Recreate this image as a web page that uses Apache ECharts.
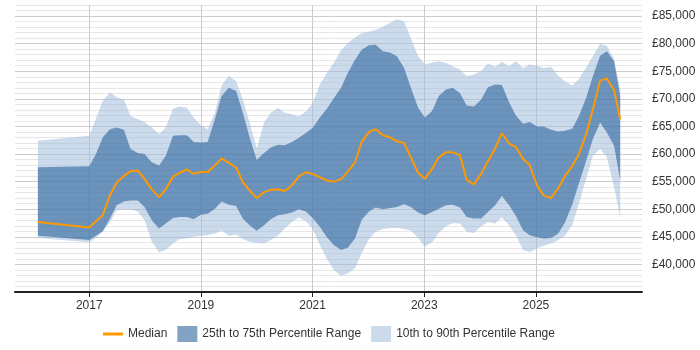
<!DOCTYPE html>
<html>
<head>
<meta charset="utf-8">
<script src="https://cdn.jsdelivr.net/npm/echarts@6/dist/echarts.min.js"></script>
<style>
  html, body { margin: 0; padding: 0; background: #fff; }
  #chart { width: 700px; height: 350px; }
</style>
</head>
<body>
<div id="chart"></div>
<script>
/* data (year as decimal, salary in GBP) */
var years = [2016.08, 2017.00, 2017.12, 2017.24, 2017.37, 2017.49, 2017.62, 2017.74, 2017.87, 2017.99,
	2018.12, 2018.25, 2018.37, 2018.50, 2018.62, 2018.75, 2018.87, 2019.00, 2019.12, 2019.25,
	2019.37, 2019.50, 2019.63, 2019.75, 2019.88, 2020.00, 2020.13, 2020.25, 2020.38, 2020.50,
	2020.63, 2020.75, 2020.88, 2021.00, 2021.13, 2021.25, 2021.38, 2021.51, 2021.63, 2021.76,
	2021.88, 2022.01, 2022.13, 2022.26, 2022.39, 2022.51, 2022.64, 2022.76, 2022.89, 2023.01,
	2023.14, 2023.26, 2023.39, 2023.51, 2023.64, 2023.76, 2023.89, 2024.02, 2024.14, 2024.27,
	2024.39, 2024.52, 2024.64, 2024.77, 2024.89, 2025.02, 2025.14, 2025.27, 2025.40, 2025.52,
	2025.65, 2025.77, 2025.90, 2026.02, 2026.15, 2026.27, 2026.40, 2026.51];

var p90 = [62400, 63300, 66400, 69600, 71200, 70300, 69900, 66900, 66300, 65800,
	64800, 63600, 64800, 68200, 68600, 68400, 66600, 65200, 64500, 67500,
	72400, 74200, 73200, 69900, 65400, 61000, 65700, 67500, 68400, 67500,
	67200, 66800, 67700, 69200, 72600, 74600, 76500, 78800, 80100, 81100,
	81900, 82200, 82500, 83100, 83800, 84400, 84000, 81000, 77700, 76200,
	76600, 76800, 76500, 75900, 75300, 74100, 74400, 75100, 76400, 75800,
	76700, 75900, 76800, 75600, 76200, 76000, 75600, 75800, 74200, 73200,
	72400, 73600, 75700, 77700, 80000, 79600, 77200, 71500];

var p75 = [57600, 57800, 60000, 63000, 64500, 64800, 64400, 60900, 60200, 60000,
	58500, 57900, 59700, 63300, 63400, 63400, 62200, 62100, 62200, 66300,
	70500, 72000, 71400, 67500, 62700, 58900, 60200, 61200, 61700, 61600,
	62200, 62900, 63800, 64700, 66600, 68100, 70100, 72000, 74700, 77100,
	78900, 79700, 79800, 78600, 78400, 77700, 75600, 72000, 68400, 66600,
	67800, 70500, 71700, 72000, 71000, 68800, 68600, 69900, 72100, 72600,
	72500, 69400, 67000, 65500, 65800, 65000, 65000, 64400, 64100, 64200,
	64600, 66900, 70200, 74100, 77800, 78600, 76800, 70500];

var median = [47700, 46700, 47800, 48900, 52500, 54800, 56000, 56900, 57000, 55500,
	53600, 52200, 53600, 55900, 56600, 57200, 56400, 56800, 56700, 57900,
	59200, 58400, 57600, 54900, 53300, 52000, 53100, 53500, 53600, 53300,
	54300, 55900, 56700, 56400, 55800, 55200, 55000, 55400, 56800, 58500,
	62200, 64000, 64500, 63400, 63000, 62300, 62000, 59400, 56600, 55500,
	57300, 59400, 60300, 60300, 59800, 55300, 54500, 56400, 58700, 61000,
	63800, 61900, 61300, 59100, 58000, 54300, 52500, 52000, 53800, 56000,
	57800, 60000, 63600, 68100, 73300, 73700, 71600, 66300];

var p25 = [45200, 44400, 45200, 46000, 48300, 50700, 51400, 51600, 51600, 50400,
	48000, 46500, 47400, 48400, 48600, 48600, 48200, 49000, 49200, 50100,
	51400, 50800, 50600, 48300, 47000, 46100, 47100, 48200, 48900, 49100,
	49400, 50000, 49600, 48400, 46800, 45000, 43500, 42600, 43000, 44700,
	48100, 49600, 50300, 50000, 50200, 50400, 50900, 50400, 49400, 48900,
	49500, 50100, 50700, 50800, 50300, 48600, 48300, 48300, 49500, 50700,
	52400, 50700, 48800, 46200, 45300, 44900, 44700, 44800, 45600, 47600,
	50800, 54700, 58800, 62700, 65700, 63900, 61500, 55200];

var p10 = [44800, 44000, 44800, 45900, 47600, 49800, 50000, 50000, 49600, 48000,
	44100, 42200, 42600, 43800, 44600, 44700, 45000, 45200, 45300, 45600,
	46100, 45200, 45400, 44600, 44100, 43900, 43800, 44400, 45200, 46500,
	47700, 48500, 47800, 46500, 43500, 41100, 39000, 37900, 38400, 39300,
	42000, 44600, 45900, 46400, 46600, 46600, 46400, 46100, 44800, 43200,
	44000, 45700, 46900, 47500, 47400, 45900, 45700, 46900, 47700, 47400,
	48500, 47100, 45300, 42600, 42200, 42900, 43400, 43800, 44400, 45200,
	47100, 51000, 55500, 59700, 60900, 59400, 54000, 48600];

var yearTicks = [2017, 2019, 2021, 2023, 2025];
var salaryTicks = [40000, 45000, 50000, 55000, 60000, 65000, 70000, 75000, 80000, 85000];

var fontName = 'Liberation Sans, Arial, sans-serif';

/* band between two percentile lines, drawn as one polygon */
function bandData(lo, hi) {
	return years.map(function (y, i) { return [y, lo[i], hi[i]]; });
}
function bandRender(params, api) {
	if (params.dataIndex !== 0) return;
	var top = [], bottom = [];
	for (var i = 0; i < years.length; i++) {
		top.push(api.coord([api.value(0, i), api.value(2, i)]));
		bottom.push(api.coord([api.value(0, i), api.value(1, i)]));
	}
	return {
		type: 'polygon',
		shape: { points: top.concat(bottom.reverse()) },
		style: api.style()
	};
}

function money(v) {
	return '£' + String(v).replace(/\B(?=(\d{3})+(?!\d))/g, ',');
}

var chart = echarts.init(document.getElementById('chart'), null, { renderer: 'canvas' });

var option = {
	animation: false,
	grid: {
		left: 15,
		right: 58,
		top: 5,
		bottom: 58
	},
	legend: {
		left: 98,
		top: 321,
		itemWidth: 20,
		itemHeight: 16,
		itemGap: 10,
		textStyle: { fontFamily: fontName, fontSize: 12, color: '#333' },
		data: [
			{ name: 'Median', icon: 'path://M0,0M0,6.5L20,6.5L20,9.5L0,9.5ZM20,16' },
			{ name: '25th to 75th Percentile Range', icon: 'rect' },
			{ name: '10th to 90th Percentile Range', icon: 'rect' }
		]
	},
	xAxis: {
		type: 'value',
		min: 2015.67,
		max: 2026.9,
		axisLine: { lineStyle: { color: '#222', width: 2 } },
		axisTick: {
			show: true,
			customValues: yearTicks,
			length: 5,
			lineStyle: { color: '#222' }
		},
		axisLabel: {
			customValues: yearTicks,
			margin: 8,
			fontFamily: fontName,
			fontSize: 12,
			color: '#333',
			formatter: function (v) { return String(Math.round(v)); }
		},
		splitLine: { show: true, lineStyle: { color: '#cccccc', width: 1 } }
	},
	yAxis: {
		type: 'value',
		position: 'right',
		min: 35000,
		max: 87000,
		interval: 1000,
		axisLine: { show: false },
		axisTick: { show: false },
		axisLabel: {
			customValues: salaryTicks,
			margin: 10,
			align: 'left',
			fontFamily: fontName,
			fontSize: 12,
			color: '#333',
			formatter: money
		},
		splitLine: {
			show: true,
			lineStyle: { color: ['#cccccc', '#e6e6e6', '#e6e6e6', '#e6e6e6', '#e6e6e6'], width: 1 }
		}
	},
	series: [
		{
			name: '10th to 90th Percentile Range',
			type: 'custom',
			renderItem: bandRender,
			encode: { x: 0, y: [1, 2] },
			itemStyle: { color: 'rgba(160, 190, 220, 0.55)' },
			data: bandData(p10, p90),
			z: 1
		},
		{
			name: '25th to 75th Percentile Range',
			type: 'custom',
			renderItem: bandRender,
			encode: { x: 0, y: [1, 2] },
			itemStyle: { color: 'rgba(30, 87, 149, 0.55)' },
			data: bandData(p25, p75),
			z: 2
		},
		{
			name: 'Median',
			type: 'line',
			color: '#ff9900',
			symbol: 'none',
			showSymbol: false,
			lineStyle: { color: '#ff9900', width: 2 },
			itemStyle: { color: '#ff9900' },
			data: years.map(function (y, i) { return [y, median[i]]; }),
			z: 3
		}
	]
};

chart.setOption(option);
</script>
</body>
</html>
